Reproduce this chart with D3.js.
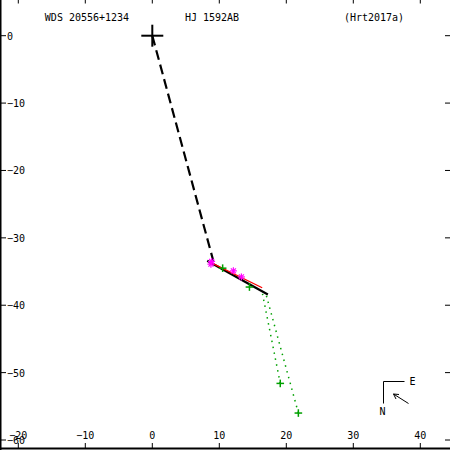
<!DOCTYPE html>
<html>
<head>
<meta charset="utf-8">
<script src="https://cdn.jsdelivr.net/npm/d3@7"></script>
<style>
body { margin: 0; background: #fff; }
svg text { font-family: "DejaVu Sans Mono", monospace; font-size: 10px; }
</style>
</head>
<body>
<svg width="450" height="450"></svg>
<script>
// title strings
var titles = ["WDS 20556+1234", "HJ 1592AB", "(Hrt2017a)"];

// tick values (arcsec)
var xTicks = [-20, -10, 0, 10, 20, 30, 40];
var yTicks = [0, -10, -20, -30, -40, -50, -60];

// primary star, line to closest approach, linear ephemeris, measured fit
var primary = [0, 0];
var closest = [[0, 0], [9.1, -33.4]];
var ephemeris = [[8.2, -33.4], [17.25, -38.4]];
var fitLine = [[8.6, -33.6], [16.4, -37.4]];

// observations
var starObs = [[8.85, -33.5], [8.75, -33.9], [12.1, -34.9], [13.3, -35.8]];
var plusObs = [[10.5, -34.5], [14.5, -37.3], [19.1, -51.6], [21.8, -56.0]];
// O-C residual lines: observed -> predicted
var ocObs = [[19.1, -51.6], [21.8, -56.0]];
var ocPred = [[16.45, -38.3], [16.95, -38.3]];

var svg = d3.select("svg");

var x = d3.scaleLinear().domain([-20, 40]).range([18.3, 420.3]);
var y = d3.scaleLinear().domain([0, -60]).range([35.7, 440]);

var line = d3.line()
    .x(function(d) { return x(d[0]); })
    .y(function(d) { return y(d[1]); });

// frame: left and bottom only visible
svg.append("line").attr("x1", 0.5).attr("x2", 0.5).attr("y1", 0).attr("y2", 450)
   .attr("stroke", "#000").attr("stroke-width", 2);
svg.append("line").attr("x1", 0).attr("x2", 450).attr("y1", 448.5).attr("y2", 448.5)
   .attr("stroke", "#000").attr("stroke-width", 2);

// x ticks (bottom up, top down) + labels
xTicks.forEach(function(t) {
    svg.append("line").attr("x1", x(t)).attr("x2", x(t)).attr("y1", 443).attr("y2", 449)
       .attr("stroke", "#000");
    svg.append("line").attr("x1", x(t)).attr("x2", x(t)).attr("y1", 0).attr("y2", 3.5)
       .attr("stroke", "#000");
    svg.append("text").attr("x", x(t)).attr("y", 438.5)
       .attr("text-anchor", "middle").text(t === 0 ? "0" : String(t).replace("-", "\u2212"));
});

// y ticks (left right, right left) + labels
yTicks.forEach(function(t) {
    svg.append("line").attr("x1", 1).attr("x2", 6).attr("y1", y(t)).attr("y2", y(t))
       .attr("stroke", "#000");
    svg.append("line").attr("x1", 445).attr("x2", 450).attr("y1", y(t)).attr("y2", y(t))
       .attr("stroke", "#000");
    svg.append("text").attr("x", 7).attr("y", y(t) + 4)
       .text(t === 0 ? "0" : String(t).replace("-", "\u2212"));
});

// titles
var titleX = [87, 212, 374];
titles.forEach(function(s, i) {
    svg.append("text").attr("x", titleX[i]).attr("y", 21)
       .attr("text-anchor", "middle").text(s);
});

// dashed line primary -> closest approach
svg.append("path").datum(closest)
   .attr("d", line).attr("fill", "none")
   .attr("stroke", "#000").attr("stroke-width", 2.2)
   .attr("stroke-dasharray", "10,5");

// O-C residual lines
ocObs.forEach(function(d, i) {
    svg.append("path").datum([d, ocPred[i]])
       .attr("d", line).attr("fill", "none")
       .attr("stroke", "#00a000").attr("stroke-width", 1.5)
       .attr("stroke-dasharray", "1.5,4.5");
});

// linear ephemeris
svg.append("path").datum(ephemeris)
   .attr("d", line).attr("fill", "none")
   .attr("stroke", "#000").attr("stroke-width", 2.2);

// red fit line
svg.append("path").datum(fitLine)
   .attr("d", line).attr("fill", "none")
   .attr("stroke", "#ff0000").attr("stroke-width", 1.3);

// magenta asterisks
starObs.forEach(function(d) {
    var g = svg.append("g").attr("transform", "translate(" + x(d[0]) + "," + y(d[1]) + ")");
    [[-3.5, 0, 3.5, 0], [0, -3.5, 0, 3.5], [-2.5, -2.5, 2.5, 2.5], [-2.5, 2.5, 2.5, -2.5]].forEach(function(s) {
        g.append("line").attr("x1", s[0]).attr("y1", s[1]).attr("x2", s[2]).attr("y2", s[3])
         .attr("stroke", "#ff00ff").attr("stroke-width", 1.2);
    });
});

// green pluses
plusObs.forEach(function(d) {
    var g = svg.append("g").attr("transform", "translate(" + x(d[0]) + "," + y(d[1]) + ")");
    g.append("line").attr("x1", -3.8).attr("x2", 3.8).attr("y1", 0).attr("y2", 0)
     .attr("stroke", "#00a000").attr("stroke-width", 1.5);
    g.append("line").attr("x1", 0).attr("x2", 0).attr("y1", -3.8).attr("y2", 3.8)
     .attr("stroke", "#00a000").attr("stroke-width", 1.5);
});

// primary cross
var pc = svg.append("g").attr("transform", "translate(" + x(primary[0]) + "," + y(primary[1]) + ")");
pc.append("line").attr("x1", -11).attr("x2", 11).attr("y1", 0).attr("y2", 0)
  .attr("stroke", "#000").attr("stroke-width", 2);
pc.append("line").attr("x1", 0).attr("x2", 0).attr("y1", -11).attr("y2", 11)
  .attr("stroke", "#000").attr("stroke-width", 2);

// compass + direction arrow
var cp = svg.append("g").attr("transform", "translate(383.5,381.5)");
cp.append("path").attr("d", "M21,0H0V22").attr("fill", "none")
  .attr("stroke", "#000").attr("stroke-width", 1);
cp.append("text").attr("x", 29).attr("y", 3.5).attr("text-anchor", "middle").text("E");
cp.append("text").attr("x", -1).attr("y", 33).attr("text-anchor", "middle").text("N");
cp.append("path").attr("d", "M25,22L10,12.5M10,12.5L15.5,13M10,12.5L12.5,17.5")
  .attr("fill", "none").attr("stroke", "#000").attr("stroke-width", 1);
</script>
</body>
</html>
